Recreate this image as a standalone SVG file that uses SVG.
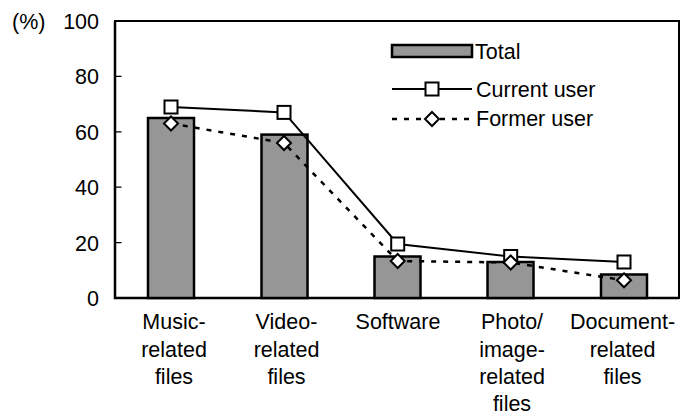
<svg xmlns="http://www.w3.org/2000/svg" width="680" height="416" viewBox="0 0 680 416">
<style>
text{font-family:"Liberation Sans",Arial,sans-serif;font-size:21.5px;fill:#000}
.tick{text-anchor:end}
.cat{text-anchor:middle}
.bar{fill:#969696;stroke:#000;stroke-width:2.5}
.frame{fill:none;stroke:#000;stroke-width:2}
.axis{stroke:#000;stroke-width:2.5;fill:none}
.cur{fill:none;stroke:#000;stroke-width:2}
.for{fill:none;stroke:#000;stroke-width:2.5;stroke-dasharray:5,7}
.sq{fill:#fff;stroke:#000;stroke-width:2}
.dm{fill:#fff;stroke:#000;stroke-width:2}
</style>
<defs>
<rect id="sqm" x="-6.5" y="-6.5" width="13" height="13" class="sq"/>
<path id="dmm" d="M0,-7 L7,0 L0,7 L-7,0 Z" class="dm"/>
</defs>
<g id="axes">
<rect class="frame" x="115" y="21" width="564" height="277"/>
<path class="axis" d="M115,21 V298 H679"/>
<path stroke="#000" stroke-width="1.2" d="M115,242.6 H121.5 M115,187.2 H121.5 M115,131.8 H121.5 M115,76.4 H121.5"/>
<text x="12" y="29">(%)</text>
<text class="tick" x="99" y="29">100</text>
<text class="tick" x="99" y="84">80</text>
<text class="tick" x="99" y="139.5">60</text>
<text class="tick" x="99" y="195">40</text>
<text class="tick" x="99" y="250.5">20</text>
<text class="tick" x="99" y="305.5">0</text>
</g>
<g id="bars">
<rect class="bar" x="148" y="118" width="46" height="180"/>
<rect class="bar" x="261.5" y="134.6" width="46" height="163.4"/>
<rect class="bar" x="374.5" y="256.5" width="46" height="41.5"/>
<rect class="bar" x="487.5" y="262" width="46" height="36"/>
<rect class="bar" x="601" y="274.5" width="46" height="23.5"/>
</g>
<g id="connectors">
<polyline class="cur" points="171,107 284,112.4 397.7,244 510.7,256.5 624,262"/>
<polyline class="for" points="171,123.5 284,143 397.7,261 510.7,262.5 624,280.3"/>
</g>
<g id="markers">
<use href="#sqm" x="171" y="107"/>
<use href="#sqm" x="284" y="112.4"/>
<use href="#sqm" x="397.7" y="244"/>
<use href="#sqm" x="510.7" y="256.5"/>
<use href="#sqm" x="624" y="262"/>
<use href="#dmm" x="171" y="123.5"/>
<use href="#dmm" x="284" y="143"/>
<use href="#dmm" x="397.7" y="261"/>
<use href="#dmm" x="510.7" y="262.5"/>
<use href="#dmm" x="624" y="280.3"/>
</g>
<g id="legend">
<rect class="bar" x="392" y="45" width="80" height="12" stroke-width="2"/>
<text x="475" y="59">Total</text>
<line class="cur" x1="392" y1="89" x2="472" y2="89"/>
<use href="#sqm" x="432" y="89"/>
<text x="476" y="96.5">Current user</text>
<line class="for" x1="392" y1="119" x2="472" y2="119"/>
<use href="#dmm" x="432" y="119"/>
<text x="476" y="125.5">Former user</text>
</g>
<g id="labels">
<text class="cat" x="174" y="329">Music-</text>
<text class="cat" x="174" y="356.5">related</text>
<text class="cat" x="174" y="384">files</text>
<text class="cat" x="286.5" y="329">Video-</text>
<text class="cat" x="286.5" y="356.5">related</text>
<text class="cat" x="286.5" y="384">files</text>
<text class="cat" x="398" y="329">Software</text>
<text class="cat" x="512" y="329">Photo/</text>
<text class="cat" x="512" y="356.5">image-</text>
<text class="cat" x="512" y="384">related</text>
<text class="cat" x="512" y="411">files</text>
<text class="cat" x="622.5" y="329">Document-</text>
<text class="cat" x="622.5" y="356.5">related</text>
<text class="cat" x="622.5" y="384">files</text>
</g>
</svg>
